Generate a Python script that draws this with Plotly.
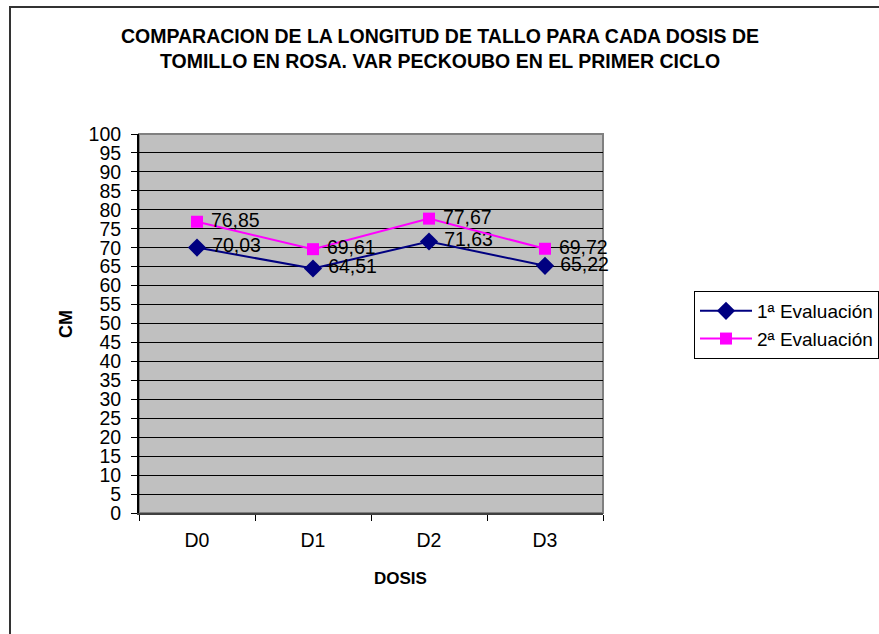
import plotly.graph_objects as go

# Stem length per thyme dose, two evaluations
dosis = ["D0", "D1", "D2", "D3"]
eval_1 = [70.03, 64.51, 71.63, 65.22]
eval_2 = [76.85, 69.61, 77.67, 69.72]
y_ticks = list(range(0, 101, 5))

FONT = "Liberation Sans, Arial, sans-serif"
NBSP = "\u00a0"


def comma(v):
    # value label with a decimal comma, nudged right of the marker
    return NBSP + f"{v:.2f}".replace(".", ",")


fig = go.Figure()
fig.add_trace(go.Scatter(
    x=dosis, y=eval_1, name="1ª Evaluación",
    mode="lines+markers+text",
    line=dict(color="#000080", width=2),
    marker=dict(symbol="diamond", size=14, color="#000080"),
    text=[comma(v) for v in eval_1], textposition="middle right",
    textfont=dict(family=FONT, size=19.5, color="#000000"),
    cliponaxis=False,
))
fig.add_trace(go.Scatter(
    x=dosis, y=eval_2, name="2ª Evaluación",
    mode="lines+markers+text",
    line=dict(color="#FF00FF", width=2),
    marker=dict(symbol="square", size=12, color="#FF00FF"),
    text=[comma(v) for v in eval_2], textposition="middle right",
    textfont=dict(family=FONT, size=19.5, color="#000000"),
    cliponaxis=False,
))

W, H = 879, 634
L, R, T, B = 139, 276, 134, 121
pw, ph = W - L - R, H - T - B


def px_x(x):
    return (x - L) / pw


def px_y(y):
    return (H - B - y) / ph


fig.update_layout(
    width=W, height=H,
    margin=dict(l=L, r=R, t=T, b=B, autoexpand=False),
    paper_bgcolor="white",
    plot_bgcolor="#C0C0C0",
    font=dict(family=FONT, color="#000000"),
    title=dict(
        text="COMPARACION DE LA LONGITUD DE TALLO PARA CADA DOSIS DE<br>"
             "TOMILLO EN ROSA. VAR PECKOUBO EN EL PRIMER CICLO",
        x=440 / W, xanchor="center", xref="container",
        y=1 - 43 / H, yanchor="middle", yref="container",
        font=dict(family=FONT, size=19.5, color="#000000", weight="bold"),
    ),
    xaxis=dict(
        type="category", range=[-0.5, 3.5],
        showgrid=False, zeroline=False, automargin=False,
        showline=True, linecolor="#404040", linewidth=2,
        ticks="outside", ticklen=6, tickcolor="#000000", tickson="boundaries",
        tickfont=dict(family=FONT, size=19.5),
        ticklabelstandoff=9,
    ),
    yaxis=dict(
        range=[0, 100], tickvals=y_ticks,
        showgrid=True, gridcolor="#000000", gridwidth=1,
        zeroline=False, automargin=False,
        showline=True, linecolor="#000000", linewidth=2,
        ticks="outside", ticklen=6, tickcolor="#000000",
        tickfont=dict(family=FONT, size=19.5),
        ticklabelstandoff=6,
    ),
    legend=dict(
        x=px_x(694), xanchor="left", y=px_y(291), yanchor="top",
        bgcolor="white", bordercolor="#000000", borderwidth=1,
        font=dict(family=FONT, size=19),
        itemwidth=52,
        tracegroupgap=0,
    ),
    showlegend=True,
    annotations=[
        dict(text="<b>DOSIS</b>", xref="paper", yref="paper",
             x=px_x(400), y=px_y(578), xanchor="center", yanchor="middle",
             showarrow=False, font=dict(family=FONT, size=17)),
        dict(text="<b>CM</b>", xref="paper", yref="paper",
             x=px_x(66), y=px_y(324), xanchor="center", yanchor="middle",
             textangle=-90, showarrow=False, font=dict(family=FONT, size=18)),
    ],
    shapes=[
        # plot area frame
        dict(type="rect", xref="paper", yref="paper", x0=0, x1=1, y0=0, y1=1,
             line=dict(color="#808080", width=2), layer="below"),
        # outer chart frame
        dict(type="rect", xref="paper", yref="paper",
             x0=px_x(10), x1=px_x(900), y0=px_y(660), y1=px_y(7),
             line=dict(color="#333333", width=2)),
    ],
)

fig.write_html("out.html")
